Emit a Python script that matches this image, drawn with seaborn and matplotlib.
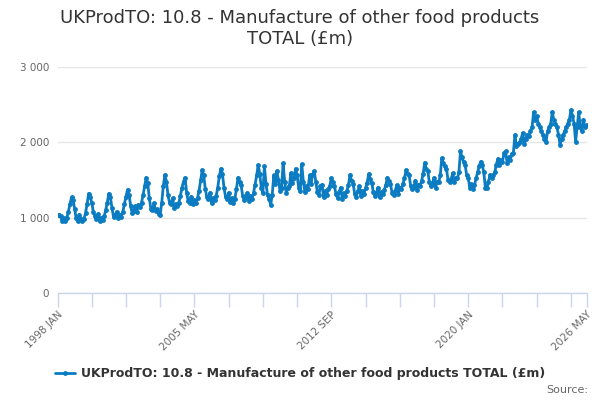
"""
UKProdTO 10.8 - monthly turnover line chart
"""

import pandas as pd
import numpy as np
import seaborn as sns
import matplotlib.pyplot as plt

sns.set_style('white')
plt.rcParams['font.family'] = ['DejaVu Sans']

title = "UKProdTO: 10.8 - Manufacture of other food products\nTOTAL (£m)"
series_name = "UKProdTO: 10.8 - Manufacture of other food products TOTAL (£m)"

# monthly values, Jan 1998 .. May 2026
values = [
    1030, 1030, 1020, 950, 990, 960, 1000, 1080, 1180, 1270, 1240, 1120,   # 1998
    990, 950, 1040, 980, 950, 980, 1060, 1180, 1320, 1280, 1200, 1080,     # 1999
    1020, 980, 1050, 960, 1000, 970, 1020, 1100, 1200, 1320, 1270, 1130,   # 2000
    1010, 1030, 1080, 990, 1040, 1010, 1080, 1180, 1280, 1370, 1300, 1160, # 2001
    1060, 1090, 1150, 1080, 1170, 1140, 1200, 1300, 1420, 1530, 1460, 1260,# 2002
    1120, 1100, 1190, 1090, 1110, 1050, 1040, 1200, 1420, 1570, 1480, 1300,# 2003
    1200, 1180, 1260, 1130, 1180, 1150, 1200, 1290, 1400, 1480, 1530, 1330,# 2004
    1220, 1200, 1280, 1180, 1230, 1200, 1260, 1360, 1500, 1630, 1560, 1380,# 2005
    1270, 1250, 1330, 1200, 1260, 1230, 1290, 1400, 1550, 1650, 1580, 1400,# 2006
    1280, 1250, 1330, 1210, 1260, 1190, 1250, 1380, 1530, 1470, 1430, 1290,# 2007
    1240, 1270, 1330, 1220, 1290, 1250, 1330, 1440, 1560, 1700, 1580, 1400,# 2008
    1330, 1680, 1450, 1300, 1250, 1170, 1300, 1560, 1450, 1620, 1500, 1360,# 2009
    1400, 1720, 1480, 1330, 1390, 1420, 1590, 1460, 1520, 1650, 1560, 1400,# 2010
    1350, 1710, 1480, 1340, 1420, 1380, 1560, 1450, 1580, 1620, 1480, 1340,# 2011
    1300, 1420, 1440, 1270, 1350, 1300, 1380, 1420, 1530, 1470, 1420, 1310,# 2012
    1260, 1340, 1400, 1250, 1330, 1290, 1360, 1430, 1570, 1490, 1450, 1320,# 2013
    1280, 1350, 1420, 1290, 1360, 1320, 1390, 1460, 1580, 1510, 1460, 1340,# 2014
    1290, 1330, 1400, 1270, 1340, 1310, 1370, 1430, 1530, 1490, 1450, 1330,# 2015
    1300, 1350, 1430, 1320, 1400, 1380, 1450, 1520, 1630, 1580, 1560, 1420,# 2016
    1380, 1410, 1490, 1370, 1440, 1420, 1490, 1580, 1730, 1650, 1620, 1470,# 2017
    1420, 1450, 1530, 1400, 1480, 1470, 1560, 1790, 1720, 1680, 1650, 1500,# 2018
    1470, 1510, 1590, 1480, 1530, 1520, 1600, 1880, 1800, 1740, 1700, 1560,# 2019
    1520, 1400, 1450, 1380, 1430, 1520, 1600, 1680, 1745, 1700, 1600, 1400,# 2020
    1390, 1480, 1570, 1520, 1560, 1600, 1700, 1780, 1700, 1760, 1740, 1860,# 2021
    1880, 1720, 1800, 1760, 1850, 1860, 2100, 1950, 1980, 2000, 2050, 2125,# 2022
    1980, 2050, 2100, 2080, 2150, 2200, 2400, 2300, 2350, 2250, 2200, 2150,# 2023
    2100, 2050, 2010, 2150, 2200, 2250, 2400, 2300, 2250, 2200, 2100, 1970,# 2024
    2050, 2100, 2150, 2200, 2250, 2300, 2430, 2350, 2250, 2010, 2200, 2400,# 2025
    2200, 2150, 2300, 2200, 2230,                                          # 2026
]

month_names = ['JAN', 'FEB', 'MAR', 'APR', 'MAY', 'JUN',
               'JUL', 'AUG', 'SEP', 'OCT', 'NOV', 'DEC']
periods = ["{} {}".format(1998 + i // 12, month_names[i % 12]) for i in range(len(values))]

label_periods = ['1998 JAN', '2005 MAY', '2012 SEP', '2020 JAN', '2026 MAY']
y_ticks = [0, 1000, 2000, 3000]

data = pd.DataFrame({'period': periods, 'value': values})
data['idx'] = np.arange(len(data))

line_color = '#0b7cc1'
axis_color = '#ccd6eb'

fig = plt.figure(figsize=(6, 4), dpi=100)
ax = fig.add_axes([57.5 / 600, 107 / 400, 529 / 600, 226 / 400])

sns.lineplot(data=data, x='idx', y='value', ax=ax, color=line_color,
             linewidth=2, marker='o', markersize=3.5, markeredgewidth=0,
             label=series_name, legend=False)

n = len(data) - 1
ax.set_xlim(0, n)
ax.set_ylim(0, 3000)

ax.set_yticks(y_ticks)
ax.set_yticklabels(["{:,}".format(v).replace(',', ' ') for v in y_ticks],
                   fontsize=7.5, color='#666666')
ax.yaxis.grid(True, color='#e6e6e6', linewidth=1)
ax.tick_params(axis='y', left=False, length=0, pad=6)

# minor ticks every 22 months, labels on selected periods
ax.set_xticks(list(range(0, n, 22)) + [n], minor=True)
label_pos = [periods.index(p) for p in label_periods]
ax.set_xticks(label_pos)
ax.set_xticklabels(label_periods, rotation=45, ha='right', rotation_mode='anchor',
                   fontsize=7.5, color='#666666')
ax.tick_params(axis='x', which='both', bottom=True, length=10, color=axis_color,
               width=1, pad=2, direction='out')

ax.set_xlabel('')
ax.set_ylabel('')
for side in ['top', 'right', 'left']:
    ax.spines[side].set_visible(False)
ax.spines['bottom'].set_color(axis_color)
ax.spines['bottom'].set_linewidth(1)

fig.text(0.5, 0.978, title, ha='center', va='top', fontsize=13,
         color='#333333', linespacing=1.2)

handles, labels = ax.get_legend_handles_labels()
leg = fig.legend(handles, labels, loc='center', bbox_to_anchor=(0.5, 26 / 400),
                 frameon=False, handlelength=1.6, handletextpad=0.5,
                 prop={'size': 9, 'weight': 'bold'})
for t in leg.get_texts():
    t.set_color('#333333')

fig.text(588 / 600, 10 / 400, 'Source:', ha='right', va='center',
         fontsize=8, color='#666666')

fig.savefig('out.png', dpi=100)
